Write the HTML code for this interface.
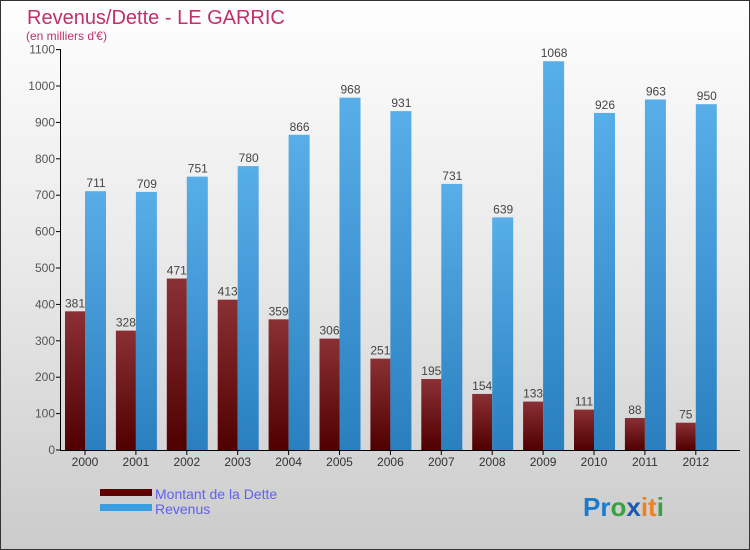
<!DOCTYPE html>
<html><head><meta charset="utf-8"><style>
body{margin:0;width:750px;height:550px;overflow:hidden;font-family:"Liberation Sans",sans-serif}
#wrap{position:absolute;left:0;top:0;width:748px;height:548px;border:1px solid #333;background:linear-gradient(#fefefe,#e8e8e8 50%,#cbcbcb)}
</style></head><body>
<div id="wrap">
<svg id="chart" width="750" height="550" style="position:absolute;left:-1px;top:-1px">
<defs>
<linearGradient id="gd" x1="0" y1="0" x2="0" y2="1"><stop offset="0" stop-color="#8a3034"/><stop offset="1" stop-color="#500000"/></linearGradient>
<linearGradient id="gr" x1="0" y1="0" x2="0" y2="1"><stop offset="0" stop-color="#58aee8"/><stop offset="1" stop-color="#2a7fbf"/></linearGradient>
</defs>
<text x="27" y="24" font-size="20" fill="#c0306a">Revenus/Dette - LE GARRIC</text>
<text x="26" y="40" font-size="12" fill="#c0306a">(en milliers d'€)</text>
<g id="plot"></g>
<rect x="100" y="489" width="52" height="7" fill="#600000"/>
<rect x="100" y="504" width="52" height="7" fill="#3a9de0"/>
<text x="155" y="499" font-size="14" fill="#6060f0">Montant de la Dette</text>
<text x="155" y="514" font-size="14" fill="#6060f0">Revenus</text>
<text x="583" y="516" font-size="26" font-weight="bold"><tspan fill="#1a7ad0">Pr</tspan><tspan fill="#3aa040">o</tspan><tspan fill="#1a5ab0">x</tspan><tspan fill="#f08020">it</tspan><tspan fill="#3aa040">i</tspan></text>
</svg>
</div>
<script>
const categories=["2000","2001","2002","2003","2004","2005","2006","2007","2008","2009","2010","2011","2012"];
const dette=[381,328,471,413,359,306,251,195,154,133,111,88,75];
const revenus=[711,709,751,780,866,968,931,731,639,1068,926,963,950];
const ticks=[0,100,200,300,400,500,600,700,800,900,1000,1100];
const NS="http://www.w3.org/2000/svg";
const g=document.getElementById('plot');
const y=v=>450-v*0.364;
const x=i=>65+i*50.9;
function mk(t,a){const e=document.createElementNS(NS,t);for(const k in a)e.setAttribute(k,a[k]);g.appendChild(e);return e;}
ticks.forEach(t=>{
 const l=mk('line',{x1:56,x2:61,y1:y(t),y2:y(t),stroke:'#000'});
 
 
 const tx=mk('text',{x:55,y:y(t)+4,'text-anchor':'end','font-size':12,fill:'#555'});tx.textContent=t;
 
 
});
categories.forEach((c,i)=>{
 const b1=mk('rect',{x:x(i),y:y(dette[i]),width:20,height:450-y(dette[i]),fill:'url(#gd)'});
 
 
 const b2=mk('rect',{x:x(i)+20,y:y(revenus[i]),width:21,height:450-y(revenus[i]),fill:'url(#gr)'});
 
 
 const t1=mk('text',{x:x(i)+10,y:y(dette[i])-4,'text-anchor':'middle','font-size':12,fill:'#444'});t1.textContent=dette[i];
 
 
 const t2=mk('text',{x:x(i)+31,y:y(revenus[i])-4,'text-anchor':'middle','font-size':12,fill:'#444'});t2.textContent=revenus[i];
 
 
 const tk=mk('line',{x1:x(i)+20,x2:x(i)+20,y1:450,y2:455,stroke:'#000'});
 
 
 const xl=mk('text',{x:x(i)+20,y:466,'text-anchor':'middle','font-size':12,fill:'#333'});xl.textContent=c;
 
 
});
const ay=mk('line',{x1:60.5,x2:60.5,y1:50,y2:450,stroke:'#000'});


const ax=mk('line',{x1:60,x2:740,y1:450.5,y2:450.5,stroke:'#000'});


</script>
</body></html>
